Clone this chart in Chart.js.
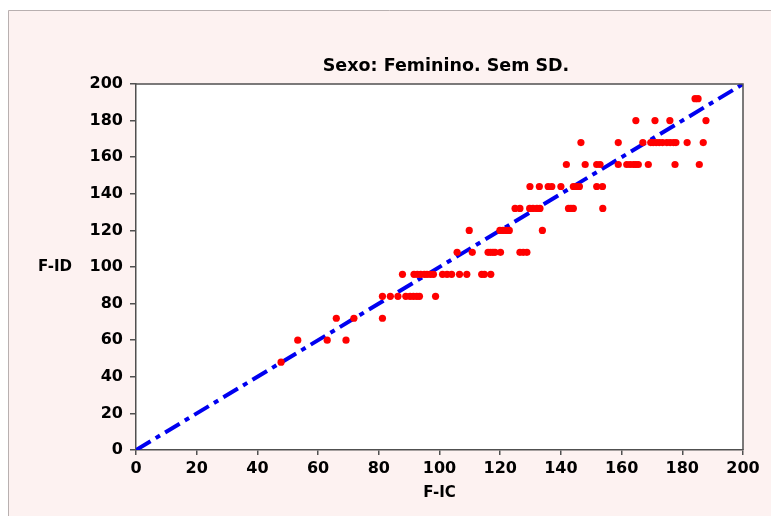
<!DOCTYPE html>
<html>
<head>
<meta charset="utf-8">
<script src="https://cdn.jsdelivr.net/npm/chart.js@4"></script>
<style>
html,body{margin:0;padding:0;background:#fff;}
#wrap{width:771px;height:516px;position:relative;}
canvas{display:block;}
</style>
</head>
<body>
<div id="wrap"><canvas id="c" width="771" height="516"></canvas></div>
<script>
const chartTitle = "Sexo: Feminino. Sem SD.";
const xTitle = "F-IC";
const yTitle = "F-ID";
const axisTicks = [0, 20, 40, 60, 80, 100, 120, 140, 160, 180, 200];
// F-IC values (x) and matching F-ID values (y)
const fic = [
  47.8,
  53.3, 63.0, 69.2,
  66.0, 71.8, 81.2,
  81.2, 83.8, 86.3, 88.9, 90.3, 91.4, 92.5, 93.4, 98.7,
  87.8, 91.6, 92.7, 93.8, 95.0, 95.9, 97.0, 98.0, 101.0, 102.5, 104.0, 106.6, 109.0, 113.9, 114.8, 116.9,
  105.8, 110.8, 116.0, 116.8, 117.6, 118.3, 120.1, 126.5, 127.6, 128.8,
  109.8, 119.9, 120.9, 122.0, 123.0, 133.9,
  124.9, 126.5, 129.7, 130.8, 132.1, 133.1, 142.5, 143.3, 144.1, 153.8,
  129.8, 132.9, 135.8, 137.0, 140.0, 144.1, 145.2, 146.1, 151.8, 153.7,
  141.8, 148.0, 151.8, 152.9, 158.9, 161.7, 162.8, 163.9, 164.7, 165.5, 168.8, 177.6, 185.6,
  146.6, 158.9, 167.0, 169.6, 170.4, 171.4, 172.4, 173.5, 174.9, 176.0, 177.1, 177.9, 181.6, 186.9,
  164.7, 171.0, 175.9, 187.8,
  184.2, 185.2
];
const fid = [
  48,
  60, 60, 60,
  72, 72, 72,
  84, 84, 84, 84, 84, 84, 84, 84, 84,
  96, 96, 96, 96, 96, 96, 96, 96, 96, 96, 96, 96, 96, 96, 96, 96,
  108, 108, 108, 108, 108, 108, 108, 108, 108, 108,
  120, 120, 120, 120, 120, 120,
  132, 132, 132, 132, 132, 132, 132, 132, 132, 132,
  144, 144, 144, 144, 144, 144, 144, 144, 144, 144,
  156, 156, 156, 156, 156, 156, 156, 156, 156, 156, 156, 156, 156,
  168, 168, 168, 168, 168, 168, 168, 168, 168, 168, 168, 168, 168, 168,
  180, 180, 180, 180,
  192, 192
];
const identityLine = [0, 200];

const points = fic.map((v, i) => ({x: v, y: fid[i]}));
const linePts = identityLine.map(v => ({x: v, y: v}));

const FONT = "'DejaVu Sans', Verdana, sans-serif";

const framePlugin = {
  id: 'frame',
  beforeDraw(chart) {
    const ctx = chart.ctx;
    const ca = chart.chartArea;
    ctx.save();
    ctx.fillStyle = '#ffffff';
    ctx.fillRect(0, 0, chart.width, chart.height);
    ctx.fillStyle = '#fdf2f1';
    ctx.fillRect(8, 10, chart.width - 8, chart.height - 10);
    ctx.strokeStyle = '#b8b0b0';
    ctx.lineWidth = 1;
    ctx.beginPath();
    ctx.moveTo(8.5, chart.height);
    ctx.lineTo(8.5, 10.5);
    ctx.lineTo(chart.width, 10.5);
    ctx.stroke();
    ctx.fillStyle = '#ffffff';
    ctx.fillRect(ca.left, ca.top, ca.right - ca.left, ca.bottom - ca.top);
    ctx.restore();
  },
  afterDraw(chart) {
    const ctx = chart.ctx;
    const ca = chart.chartArea;
    ctx.save();
    ctx.strokeStyle = '#505050';
    ctx.lineWidth = 1.5;
    ctx.beginPath();
    ctx.moveTo(ca.left, ca.top);
    ctx.lineTo(ca.right, ca.top);
    ctx.lineTo(ca.right, ca.bottom);
    ctx.stroke();
    ctx.fillStyle = '#000';
    ctx.font = "bold 15px " + FONT;
    ctx.textAlign = 'center';
    ctx.textBaseline = 'middle';
    ctx.fillText(yTitle, 55, (ca.top + ca.bottom) / 2);
    ctx.fillText(xTitle, (ca.left + ca.right) / 2, 493);
    ctx.font = "bold 17.5px " + FONT;
    ctx.fillText(chartTitle, 446, 66);
    ctx.restore();
  }
};

new Chart(document.getElementById('c'), {
  type: 'scatter',
  data: {
    datasets: [
      {
        type: 'line',
        data: linePts,
        borderColor: '#0000f0',
        borderWidth: 4,
        borderDash: [17, 6, 5, 6],
        pointRadius: 0,
        fill: false,
        order: 1
      },
      {
        data: points,
        backgroundColor: '#ff0000',
        borderColor: '#ff0000',
        borderWidth: 0,
        pointRadius: 3.6,
        order: 0
      }
    ]
  },
  plugins: [framePlugin],
  options: {
    responsive: false,
    animation: false,
    events: [],
    layout: {padding: {left: 0, right: 28, top: 84, bottom: 0}},
    plugins: {legend: {display: false}, tooltip: {enabled: false}, title: {display: false}},
    scales: {
      x: {
        type: 'linear', min: 0, max: 200,
        afterBuildTicks(s) { s.ticks = axisTicks.map(v => ({value: v})); },
        afterFit(s) { s.height = 66; },
        grid: {drawOnChartArea: false, drawTicks: true, tickLength: 5, color: '#505050', lineWidth: 1.5},
        border: {display: true, color: '#505050', width: 1.5},
        ticks: {color: '#000', font: {family: FONT, size: 16, weight: 'bold'}, padding: 4, maxRotation: 0}
      },
      y: {
        type: 'linear', min: 0, max: 200,
        afterBuildTicks(s) { s.ticks = axisTicks.map(v => ({value: v})); },
        afterFit(s) { s.width = 136; },
        grid: {drawOnChartArea: false, drawTicks: true, tickLength: 6, color: '#505050', lineWidth: 1.5},
        border: {display: true, color: '#505050', width: 1.5},
        ticks: {color: '#000', font: {family: FONT, size: 16, weight: 'bold'}, padding: 7}
      }
    }
  }
});
</script>
</body>
</html>
